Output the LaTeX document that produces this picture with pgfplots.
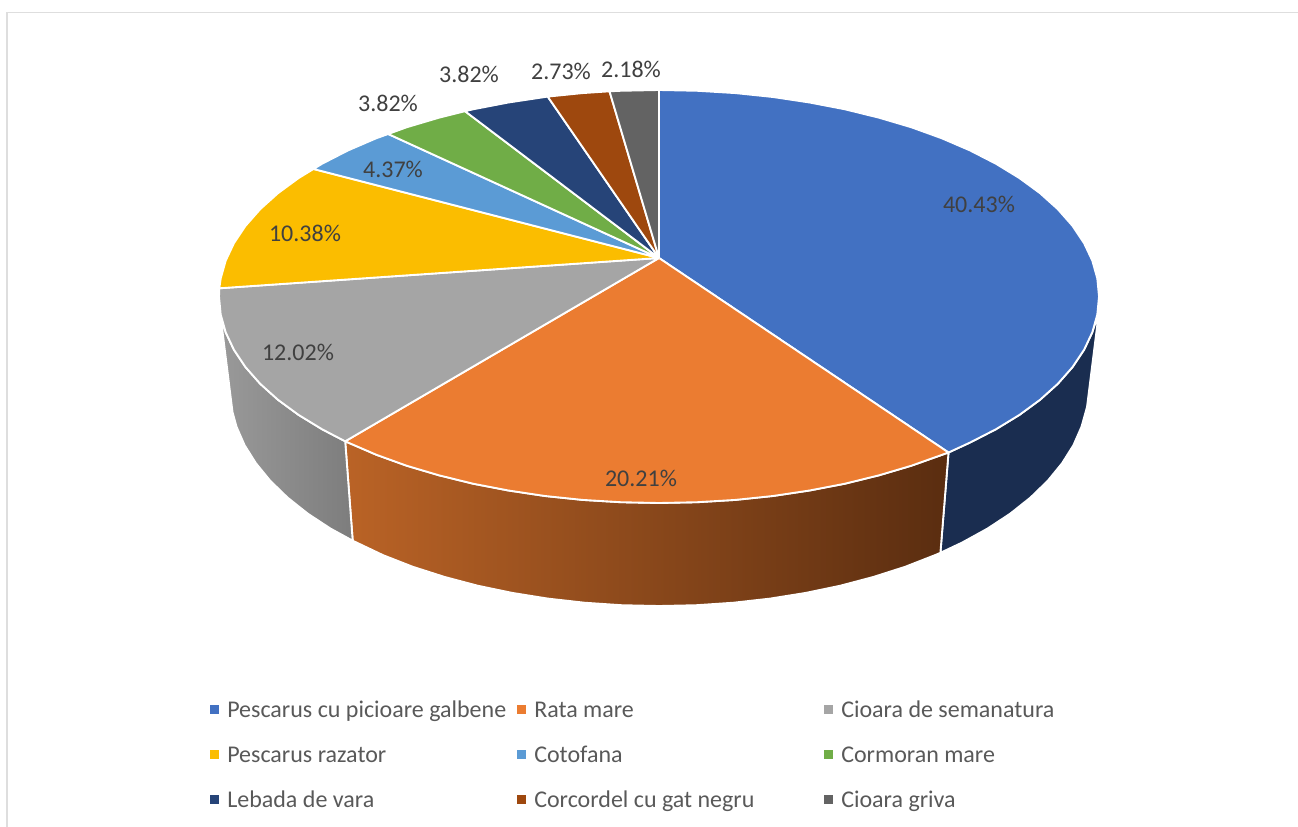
\documentclass[border=0pt]{standalone}
\usepackage{pgfplots}
\pgfplotsset{compat=1.18}
\usepackage{fontspec}
\setmainfont{Carlito}
\definecolor{cA}{HTML}{4271C2}
\definecolor{cB}{HTML}{EB7C31}
\definecolor{cC}{HTML}{A5A5A5}
\definecolor{cD}{HTML}{FBBD00}
\definecolor{cE}{HTML}{5B9BD5}
\definecolor{cF}{HTML}{70AD47}
\definecolor{cG}{HTML}{264478}
\definecolor{cH}{HTML}{9E480E}
\definecolor{cI}{HTML}{636363}
\definecolor{sideA}{HTML}{1A2D50}
\definecolor{sideBl}{HTML}{BA6326}
\definecolor{sideBr}{HTML}{5A2D10}
\definecolor{sideCl}{HTML}{999999}
\definecolor{sideCr}{HTML}{7D7D7D}
\definecolor{lbl}{HTML}{404040}
\definecolor{leg}{HTML}{595959}
\definecolor{frame}{HTML}{DEDEDE}
\pgfplotsset{
  wedge/.style={draw=white,line width=1.4pt,line join=round,mark=none,forget plot},
  sq/.style={only marks,mark=square*,mark size=3pt,mark options={draw=#1,fill=#1},forget plot}}
\tikzset{
  lab/.style={font=\fontsize{18}{18}\selectfont,text=lbl,anchor=center,inner sep=0pt},
  lg/.style={font=\fontsize{18}{18}\selectfont,text=leg,anchor=base west,inner sep=0pt}}
\begin{document}
\begin{tikzpicture}
\path[use as bounding box] (0,0) rectangle (973.5pt,620.25pt);
\begin{axis}[at={(0,0)},anchor=south west,width=973.5pt,height=620.25pt,scale only axis,
  xmin=0,xmax=1298,ymin=0,ymax=827,y dir=reverse,hide axis,clip=false]
% frame
\addplot[draw=frame,line width=1.4pt,mark=none,forget plot] coordinates {(7,827)(7,12.5)(1298,12.5)};
% sides
\addplot[wedge,fill=sideA] coordinates {(1097.5,323)(1095.1,323.8)(1092.3,332.3)(1084,349.9)(1072.5,367.1)(1057.8,383.8)(1040,399.8)(1019.4,414.9)(996,429.2)(970.1,442.5)(948.5,452.5)(940.4,552.8)(962.4,542.4)(987.6,528.5)(1010.4,513.5)(1030.5,497.5)(1047.8,480.7)(1062.1,463.2)(1073.4,445.2)(1081.5,426.7)(1087,407)(1097.5,323)};
\addplot[wedge,left color=sideBl,right color=sideBr] coordinates {(948.5,452.5)(911.4,465.7)(879,475.3)(844.9,483.7)(809.5,490.5)(772.9,496)(735.4,499.9)(697.4,502.2)(659,503)(620.6,502.2)(582.6,499.9)(545.1,496)(508.5,490.5)(473.1,483.7)(439,475.3)(406.6,465.7)(376.2,454.7)(345.2,441.3)(352.7,540.7)(383.2,555.2)(412.9,566.8)(444.5,576.9)(477.7,585.7)(512.3,592.9)(548,598.6)(584.5,602.7)(621.6,605.2)(659,606)(696.4,605.2)(733.5,602.7)(770,598.6)(805.7,592.9)(840.3,585.7)(873.5,576.9)(905.1,566.8)(934.8,555.2)(940.4,552.8)(948.5,452.5)};
\addplot[wedge,left color=sideCl,right color=sideCr] coordinates {(345.2,441.3)(322,429.2)(298.6,414.9)(278,399.8)(260.2,383.8)(245.5,367.1)(234,349.9)(225.7,332.3)(223.2,324.9)(221.7,325)(232.5,412)(236.5,426.7)(244.6,445.2)(255.9,463.2)(270.2,480.7)(287.5,497.5)(307.6,513.5)(330.4,528.5)(352.7,540.7)(345.2,441.3)};
% top face
\addplot[wedge,fill=cA] coordinates {(659,258)(659,90)(697.4,90.8)(735.4,93.1)(772.9,97)(809.5,102.5)(844.9,109.3)(879,117.7)(911.4,127.3)(941.8,138.3)(970.1,150.5)(996,163.8)(1019.4,178.1)(1040,193.2)(1057.8,209.2)(1072.5,225.9)(1084,243.1)(1092.3,260.7)(1097.3,278.5)(1099,296.5)(1097.3,314.5)(1092.3,332.3)(1084,349.9)(1072.5,367.1)(1057.8,383.8)(1040,399.8)(1019.4,414.9)(996,429.2)(970.1,442.5)(948.5,452.5)(659,258)};
\addplot[wedge,fill=cB] coordinates {(659,258)(948.5,452.5)(911.4,465.7)(879,475.3)(844.9,483.7)(809.5,490.5)(772.9,496)(735.4,499.9)(697.4,502.2)(659,503)(620.6,502.2)(582.6,499.9)(545.1,496)(508.5,490.5)(473.1,483.7)(439,475.3)(406.6,465.7)(376.2,454.7)(345.2,441.3)(659,258)};
\addplot[wedge,fill=cC] coordinates {(659,258)(345.2,441.3)(322,429.2)(298.6,414.9)(278,399.8)(260.2,383.8)(245.5,367.1)(234,349.9)(225.7,332.3)(220.7,314.5)(219,296.5)(219.3,288.3)(659,258)};
\addplot[wedge,fill=cD] coordinates {(659,258)(219.3,288.3)(220.7,278.5)(225.7,260.7)(234,243.1)(245.5,225.9)(260.2,209.2)(278,193.2)(298.6,178.1)(313.5,169)(659,258)};
\addplot[wedge,fill=cE] coordinates {(659,258)(313.5,169)(322,163.8)(347.9,150.5)(376.2,138.3)(388.2,134)(659,258)};
\addplot[wedge,fill=cF] coordinates {(659,258)(388.2,134)(406.6,127.3)(439,117.7)(465,111.2)(659,258)};
\addplot[wedge,fill=cG] coordinates {(659,258)(465,111.2)(473.1,109.3)(508.5,102.5)(547.7,96.6)(659,258)};
\addplot[wedge,fill=cH] coordinates {(659,258)(547.7,96.6)(582.6,93.1)(609.5,91.3)(659,258)};
\addplot[wedge,fill=cI] coordinates {(659,258)(609.5,91.3)(620.6,90.8)(659,90)(659,258)};
% data labels
\node[lab] at (axis cs:979,204) {40.43\%};
\node[lab] at (axis cs:641,478) {20.21\%};
\node[lab] at (axis cs:298,352) {12.02\%};
\node[lab] at (axis cs:305,233) {10.38\%};
\node[lab] at (axis cs:393,169) {4.37\%};
\node[lab] at (axis cs:388,103) {3.82\%};
\node[lab] at (axis cs:469,74) {3.82\%};
\node[lab] at (axis cs:561,71) {2.73\%};
\node[lab] at (axis cs:631,69) {2.18\%};
% legend
\addplot[sq=cA] coordinates {(214,709)};
\addplot[sq=cB] coordinates {(521,709)};
\addplot[sq=cC] coordinates {(828,709)};
\addplot[sq=cD] coordinates {(214,754)};
\addplot[sq=cE] coordinates {(521,754)};
\addplot[sq=cF] coordinates {(828,754)};
\addplot[sq=cG] coordinates {(214,799)};
\addplot[sq=cH] coordinates {(521,799)};
\addplot[sq=cI] coordinates {(828,799)};
\node[lg] at (axis cs:227,717) {Pescarus cu picioare galbene};
\node[lg] at (axis cs:534,717) {Rata mare};
\node[lg] at (axis cs:841,717) {Cioara de semanatura};
\node[lg] at (axis cs:227,762) {Pescarus razator};
\node[lg] at (axis cs:534,762) {Cotofana};
\node[lg] at (axis cs:841,762) {Cormoran mare};
\node[lg] at (axis cs:227,807) {Lebada de vara};
\node[lg] at (axis cs:534,807) {Corcordel cu gat negru};
\node[lg] at (axis cs:841,807) {Cioara griva};
\end{axis}
\end{tikzpicture}
\end{document}
